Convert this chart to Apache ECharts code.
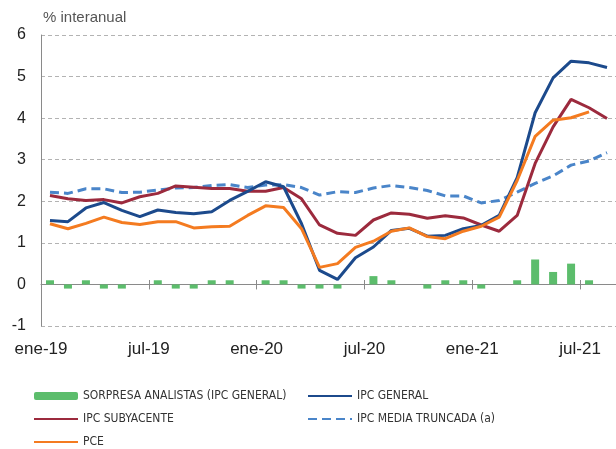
<!DOCTYPE html>
<html lang="es">
<head>
<meta charset="UTF-8">
<title>IPC</title>
<script src="https://cdn.jsdelivr.net/npm/echarts@6/dist/echarts.min.js"></script>
<style>
  html, body { margin: 0; padding: 0; background: #fff; }
  #main { width: 616px; height: 449px; }
</style>
</head>
<body>
<div id="main"></div>
<script type="text/javascript">
// meses ene-19 .. ago-21
var months = ['ene-19','feb-19','mar-19','abr-19','may-19','jun-19','jul-19','ago-19','sep-19','oct-19','nov-19','dic-19',
              'ene-20','feb-20','mar-20','abr-20','may-20','jun-20','jul-20','ago-20','sep-20','oct-20','nov-20','dic-20',
              'ene-21','feb-21','mar-21','abr-21','may-21','jun-21','jul-21','ago-21'];

var sorpresa = [0.1,-0.1,0.1,-0.1,-0.1,0,0.1,-0.1,-0.1,0.1,0.1,0,
                0.1,0.1,-0.1,-0.1,-0.1,0,0.2,0.1,0,-0.1,0.1,0.1,
                -0.1,0,0.1,0.6,0.3,0.5,0.1,null];

var ipcGeneral = [1.54,1.51,1.84,1.97,1.78,1.63,1.79,1.73,1.70,1.75,2.02,2.24,
                  2.47,2.35,1.46,0.34,0.12,0.64,0.90,1.30,1.35,1.16,1.18,1.34,
                  1.42,1.66,2.57,4.13,4.97,5.37,5.33,5.22];

var ipcSubyacente = [2.14,2.06,2.02,2.04,1.96,2.11,2.19,2.37,2.34,2.31,2.31,2.24,
                     2.24,2.33,2.06,1.43,1.23,1.18,1.55,1.72,1.69,1.59,1.65,1.60,
                     1.43,1.28,1.66,2.91,3.79,4.45,4.25,3.99];

var mediaTruncada = [2.22,2.19,2.30,2.30,2.21,2.22,2.27,2.32,2.33,2.38,2.40,2.33,
                     2.39,2.40,2.33,2.15,2.23,2.21,2.32,2.38,2.33,2.26,2.13,2.13,
                     1.96,2.02,2.22,2.43,2.61,2.87,2.97,3.17];

var pce = [1.46,1.34,1.47,1.62,1.49,1.44,1.51,1.51,1.36,1.39,1.40,1.66,
           1.89,1.85,1.34,0.41,0.50,0.89,1.04,1.28,1.36,1.15,1.10,1.28,
           1.40,1.62,2.50,3.56,3.95,4.01,4.15,null];

var names = ['SORPRESA ANALISTAS (IPC GENERAL)','IPC GENERAL','IPC SUBYACENTE','IPC MEDIA TRUNCADA (a)','PCE'];

var myChart = echarts.init(document.getElementById('main'), null, { renderer: 'canvas' });

var fontBase = "'Liberation Sans', Arial, sans-serif";
var fontNarrow = "'DejaVu Sans Condensed', 'Liberation Sans Narrow', 'Liberation Sans', sans-serif";
var legendText = { fontFamily: fontNarrow, fontSize: 12, color: '#333', lineHeight: 12 };

var option = {
    animation: false,
    title: {
        text: '% interanual',
        left: 43,
        top: 10,
        padding: 0,
        textStyle: { fontFamily: fontBase, fontSize: 15, fontWeight: 'normal', color: '#555' }
    },
    grid: { left: 41, right: 0, top: 35, bottom: 123 },
    legend: [{
        data: [names[0], names[2], names[4]],
        orient: 'vertical',
        left: 33, top: 390,
        padding: 0,
        itemWidth: 44, itemHeight: 8, itemGap: 11,
        textStyle: legendText
    }, {
        data: [names[1], names[3]],
        orient: 'vertical',
        left: 307, top: 390,
        padding: 0,
        itemWidth: 44, itemHeight: 8, itemGap: 11,
        textStyle: legendText
    }],
    xAxis: [{
        type: 'category',
        data: months,
        boundaryGap: true,
        axisLine: { onZero: true, lineStyle: { color: '#8a8a8a', width: 1 } },
        axisTick: { show: true, interval: 5, length: 5, lineStyle: { color: '#8a8a8a' } },
        axisLabel: {
            interval: 5,
            margin: 15,
            padding: [0, 18, 0, 0],
            fontFamily: fontBase, fontSize: 17, color: '#222'
        },
        splitLine: { show: false }
    }, {
        // ticks hacia arriba (cruzan el eje en 0)
        type: 'category',
        data: months,
        position: 'bottom',
        offset: -42,
        boundaryGap: true,
        axisLine: { show: false, onZero: false },
        axisTick: { show: true, inside: true, interval: 5, length: 4, lineStyle: { color: '#8a8a8a' } },
        axisLabel: { show: false },
        splitLine: { show: false }
    }],
    yAxis: {
        type: 'value',
        min: -1, max: 6, interval: 1,
        axisLine: { show: true, lineStyle: { color: '#8a8a8a' } },
        axisTick: { show: false },
        axisLabel: { margin: 15, fontFamily: fontBase, fontSize: 16, color: '#222' },
        splitLine: { lineStyle: { color: '#b3b3b3', type: [4, 3], width: 1 } }
    },
    series: [{
        name: names[0],
        type: 'bar',
        data: sorpresa,
        barWidth: 8,
        itemStyle: { color: '#5cbd6c' }
    }, {
        name: names[1],
        type: 'line',
        data: ipcGeneral,
        symbol: 'none',
        z: 5,
        lineStyle: { color: '#1c4a8c', width: 3 },
        itemStyle: { color: 'rgba(0,0,0,0)' }
    }, {
        name: names[2],
        type: 'line',
        data: ipcSubyacente,
        symbol: 'none',
        z: 4,
        lineStyle: { color: '#9c2a3d', width: 3 },
        itemStyle: { color: 'rgba(0,0,0,0)' }
    }, {
        name: names[3],
        type: 'line',
        data: mediaTruncada,
        symbol: 'none',
        z: 3,
        lineStyle: { color: '#4a85c9', width: 3, type: [9, 5] },
        itemStyle: { color: 'rgba(0,0,0,0)' }
    }, {
        name: names[4],
        type: 'line',
        data: pce,
        symbol: 'none',
        z: 6,
        lineStyle: { color: '#f47b20', width: 3 },
        itemStyle: { color: 'rgba(0,0,0,0)' }
    }]
};

myChart.setOption(option);
</script>
</body>
</html>
